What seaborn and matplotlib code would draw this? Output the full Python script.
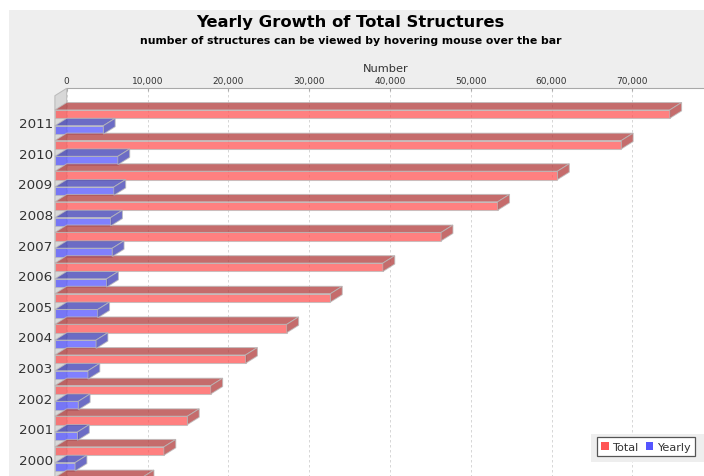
import numpy as np
import pandas as pd
import matplotlib
matplotlib.use("Agg")
import matplotlib.pyplot as plt
import seaborn as sns
from matplotlib.patches import Polygon, Rectangle, Patch
from matplotlib.transforms import IdentityTransform

# ---------------- data ----------------
years = ["2011", "2010", "2009", "2008", "2007", "2006", "2005",
         "2004", "2003", "2002", "2001", "2000", "1999"]
total = [76100, 70100, 62200, 54800, 47800, 40600, 34100,
         28700, 23600, 19300, 16400, 13500, 10800]
yearly = [6000, 7800, 7300, 6900, 7100, 6400, 5300,
          5100, 4100, 2900, 2800, 2500, np.nan]   # 1999 yearly bar is cut off
series_names = ["Total", "Yearly"]
x_ticks = [0, 10000, 20000, 30000, 40000, 50000, 60000, 70000]
x_tick_labels = ["0", "10,000", "20,000", "30,000", "40,000", "50,000", "60,000", "70,000"]

title = "Yearly Growth of Total Structures"
subtitle = "number of structures can be viewed by hovering mouse over the bar"
x_label = "Number"

# ---------------- style ----------------
face_colors = ["#FF5555", "#5555FF"]
dark_colors = ["#B23B3B", "#3B3BB2"]
W, H, DPI = 704, 477, 100
DX, DY = 11.8, 7.4          # 3D depth offset in pixels
XMAX = 78870

sns.set_style("white")
plt.rcParams["font.family"] = ["DejaVu Sans"]

fig = plt.figure(figsize=(W / DPI, H / DPI), dpi=DPI, facecolor="white")


def box(x0, y0, x1, y1):
    """pixel box (top-left origin) -> figure-fraction rect"""
    return [x0 / W, 1 - y1 / H, (x1 - x0) / W, (y1 - y0) / H]


# chart background
fig.add_artist(Rectangle((9 / W, 0), 1, 1 - 11 / H, transform=fig.transFigure,
                         facecolor="#EEEEEE", edgecolor="none", zorder=-10))

# back wall axes (white plot background, grid, top axis)
ax_back = fig.add_axes(box(54.9 + DX, 96.7 - DY, 704, 507.4 - DY))
ax_back.set_facecolor("white")
ax_back.set_xlim(0, XMAX)
ax_back.set_ylim(0, 1)
ax_back.xaxis.tick_top()
ax_back.xaxis.set_label_position("top")
ax_back.set_xticks(x_ticks, x_tick_labels)
ax_back.set_yticks([])
ax_back.tick_params(axis="x", direction="in", length=2, color="#AAAAAA",
                    labelsize=6.5, labelcolor="#333333", pad=2.3)
for s in ["left", "right", "bottom"]:
    ax_back.spines[s].set_visible(False)
ax_back.spines["top"].set_color("#A8A8A8")
ax_back.spines["top"].set_linewidth(0.8)
ax_back.grid(axis="x", color="#D0D0D0", linestyle=(0, (3, 3)), linewidth=0.6)
ax_back.set_xlabel(x_label, fontsize=8.2, color="#333333", labelpad=4)

# front plane axes (bars + category labels)
ax = fig.add_axes(box(54.9, 96.7, 704 - DX, 507.4))
ax.set_facecolor("none")
ax.set_zorder(2)

n = len(years)
df = pd.DataFrame({
    "year": years * 2,
    "series": [series_names[0]] * n + [series_names[1]] * n,
    "value": total + yearly,
}).dropna()

sns.barplot(data=df, x="value", y="year", hue="series", order=years,
            hue_order=series_names, palette=face_colors, orient="h",
            width=1.03, gap=0.47, saturation=1, alpha=0.75,
            edgecolor="#BBBBBB", linewidth=0.75, errorbar=None,
            legend=False, ax=ax)

ax.set_xlim(0, XMAX)
ax.set_ylim(12.55, -0.859)
ax.autoscale(False)
ax.set_xticks([])
ax.set_xlabel("")
ax.set_ylabel("")
ax.tick_params(axis="y", length=0, pad=1.6, labelsize=9.7, labelcolor="#333333")
for s in ax.spines.values():
    s.set_visible(False)
# category labels whose centre falls below the (cropped) picture are not shown
for pos, lab in zip(ax.get_yticks(), ax.get_yticklabels()):
    if ax.transData.transform((0, pos))[1] < 0:
        lab.set_visible(False)

# left wall
bf, bb = ax.get_position(), ax_back.get_position()
wall = Polygon([(bf.x0 * W, bf.y1 * H), (bb.x0 * W, bb.y1 * H),
                (bb.x0 * W, bb.y0 * H), (bf.x0 * W, bf.y0 * H)],
               closed=True, transform=IdentityTransform(), facecolor="#D8D8D8",
               edgecolor="#BBBBBB", linewidth=0.75, zorder=0.5, clip_on=False)
ax.add_patch(wall)

# 3D faces of the bars
for ci, cont in enumerate(ax.containers):
    for bar in cont:
        w = bar.get_width()
        if not np.isfinite(w):
            continue
        x0, y0, h = bar.get_x(), bar.get_y(), bar.get_height()
        (X0, Ya), (X1, Yb) = ax.transData.transform([(x0, y0), (x0 + w, y0 + h)])
        Yt, Ybm = max(Ya, Yb), min(Ya, Yb)
        top = Polygon([(X0, Yt), (X1, Yt), (X1 + DX, Yt + DY), (X0 + DX, Yt + DY)],
                      closed=True, transform=IdentityTransform(),
                      facecolor=dark_colors[ci], edgecolor="#BBBBBB",
                      linewidth=0.75, alpha=0.75, clip_on=False, zorder=2)
        side = Polygon([(X1, Ybm), (X1, Yt), (X1 + DX, Yt + DY), (X1 + DX, Ybm + DY)],
                       closed=True, transform=IdentityTransform(),
                       facecolor=dark_colors[ci], edgecolor="#BBBBBB",
                       linewidth=0.75, alpha=0.75, clip_on=False, zorder=2)
        ax.add_patch(top)
        ax.add_patch(side)

# titles
fig.text(350.5 / W, 1 - 27.3 / H, title, ha="center", va="baseline",
         fontsize=11.8, fontweight="bold", color="black")
fig.text(350.5 / W, 1 - 44.3 / H, subtitle, ha="center", va="baseline",
         fontsize=7.8, fontweight="bold", color="black")

# legend
fig.add_artist(Rectangle((591 / W, 1 - 463 / H), (W - 591) / W, 28 / H,
                         transform=fig.transFigure, facecolor="#EEEEEE",
                         edgecolor="none", zorder=4))
handles = [Patch(facecolor=c, edgecolor="none", label=l)
           for c, l in zip(face_colors, series_names)]
leg = fig.legend(handles=handles, loc="upper left",
                 bbox_to_anchor=(596.7 / W, 1 - 438.3 / H), ncol=2,
                 frameon=True, fancybox=False, edgecolor="#555555",
                 facecolor="white", framealpha=1, fontsize=8.1,
                 handlelength=0.68, handleheight=0.68, handletextpad=0.3,
                 columnspacing=0.65, borderpad=0.4, borderaxespad=0)
leg.get_frame().set_linewidth(0.9)
for t in leg.get_texts():
    t.set_color("#333333")

fig.savefig("out.png", dpi=DPI)
